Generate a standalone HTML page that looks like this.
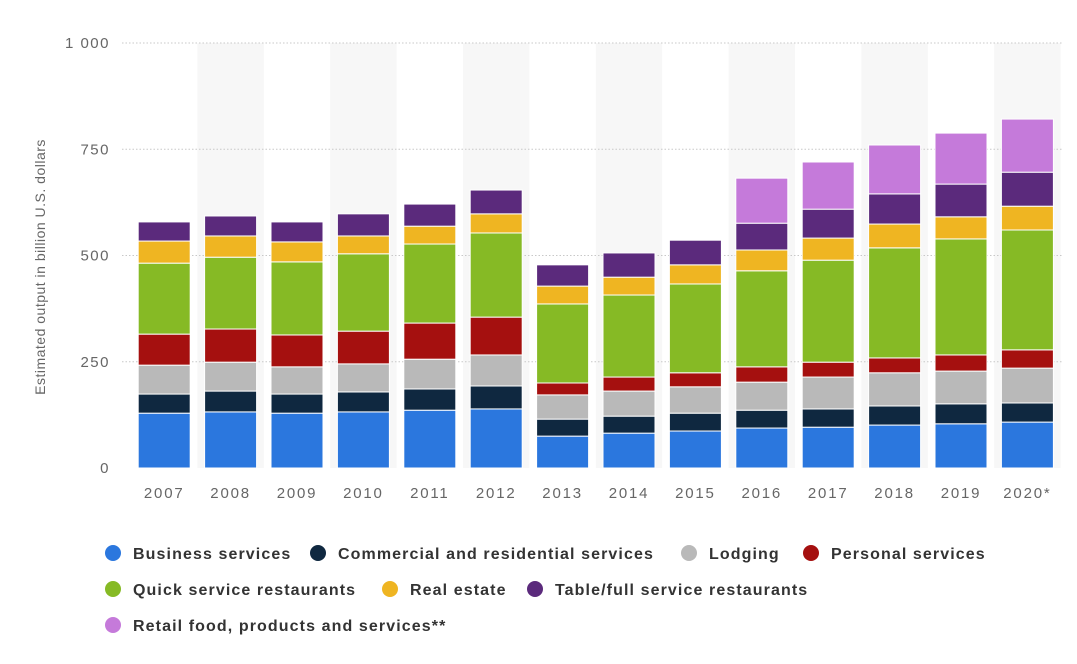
<!DOCTYPE html>
<html><head><meta charset="utf-8"><style>
body{margin:0;background:#fff;font-family:"Liberation Sans",sans-serif}
svg text{font-family:"Liberation Sans",sans-serif}
</style></head><body>
<svg id="chart" width="1077" height="659" xmlns="http://www.w3.org/2000/svg">
<g id="bands"></g><g id="grid"></g><g id="bars"></g><g id="xlabels"></g><g id="ylabels"></g>
<text transform="translate(45,267) rotate(-90)" text-anchor="middle" font-size="14" letter-spacing="0.5" fill="#666">Estimated output in billion U.S. dollars</text>
<g id="legend"></g>
</svg>
<script>
const categories=["2007","2008","2009","2010","2011","2012","2013","2014","2015","2016","2017","2018","2019","2020*"];
const seriesNames=["Business services","Commercial and residential services","Lodging","Personal services","Quick service restaurants","Real estate","Table/full service restaurants","Retail food, products and services**"];
const seriesColors=["#2b77de","#0f2840","#b9b9b9","#a5100f","#86ba25","#efb522","#5b2a7c","#c57ada"];
const business=[129,132,129,132,136,139,75,82,87,94,96,101,104,108];
const commercial=[45,49,45,47,50,54,40,40,42,42,43,45,47,45];
const lodging=[68,68,64,66,70,73,57,59,62,66,75,78,77,82];
const personal=[73,78,75,77,85,89,28,33,33,36,35,35,38,43];
const quick=[167,169,172,182,186,198,186,193,209,226,240,259,273,282];
const realEstate=[52,50,47,42,42,45,42,42,45,49,52,56,52,56];
const tableService=[45,47,47,52,52,56,50,57,58,63,68,71,77,80];
const retail=[0,0,0,0,0,0,0,0,0,106,111,115,120,125];
const yTicks=[0,250,500,750,1000];
const yTickLabels=["0","250","500","750","1 000"];
const series=[business,commercial,lodging,personal,quick,realEstate,tableService,retail];
const NS="http://www.w3.org/2000/svg";
const y0=468,yScale=0.425,x0=131,step=66.4,bw=52;
const yPos=v=>y0-v*yScale;
const xPos=i=>x0+i*step;
function mk(t,a,p){const e=document.createElementNS(NS,t);for(const k in a)e.setAttribute(k,a[k]);p.appendChild(e);return e;}
const bands=document.getElementById('bands'),grid=document.getElementById('grid'),bars=document.getElementById('bars'),xl=document.getElementById('xlabels'),yl=document.getElementById('ylabels'),lg=document.getElementById('legend');
categories.forEach((c,i)=>{
  if(i%2===1){const b=mk('rect',{x:xPos(i),y:yPos(1000),width:step,height:y0-yPos(1000),fill:'#f7f7f7'},bands);
  
  }
});
yTicks.forEach((v,i)=>{
  if(v>0){const l=mk('line',{x1:122,x2:1062,y1:yPos(v),y2:yPos(v),stroke:'#c8c8c8','stroke-dasharray':'1.5,2'},grid);
  
  }
  const t=mk('text',{x:110,y:yPos(v)+5,'text-anchor':'end','font-size':15,'letter-spacing':1.5,fill:'#666'},yl);
  t.textContent=yTickLabels[i];
  
  
});
categories.forEach((c,i)=>{
  let cum=0;const cx=xPos(i)+step/2;
  series.forEach((s,k)=>{
    const v=s[i];if(v<=0)return;
    const r=mk('rect',{x:cx-bw/2,y:yPos(cum+v),width:bw,height:v*yScale,fill:seriesColors[k],stroke:'#fff','stroke-width':1},bars);
    
    
    cum+=v;
  });
  const t=mk('text',{x:cx,y:498,'text-anchor':'middle','font-size':15,'letter-spacing':1.8,fill:'#666'},xl);
  t.textContent=c;
  
  
});
const legendPos=[[113,553],[318,553],[689,553],[811,553],[113,589],[390,589],[535,589],[113,625]];
seriesNames.forEach((n,k)=>{
  const g=mk('g',{},lg);
  
  
  const [x,y]=legendPos[k];
  mk('circle',{cx:x,cy:y,r:8,fill:seriesColors[k]},g);
  const t=mk('text',{x:x+20,y:y+6,'font-size':16,'font-weight':'bold','letter-spacing':1.1,fill:'#333'},g);
  t.textContent=n;
});
</script>
</body></html>
